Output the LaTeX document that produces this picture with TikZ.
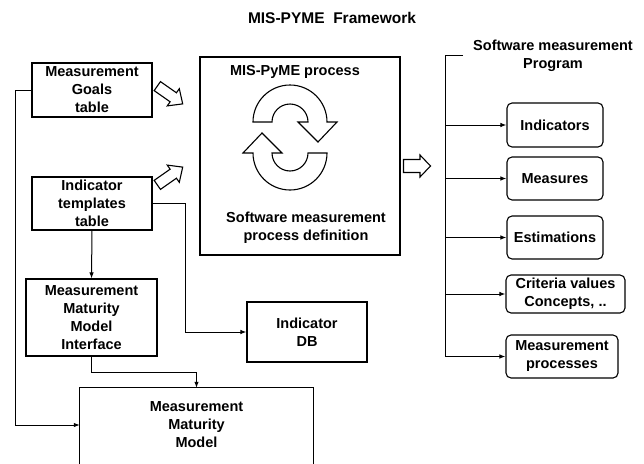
\documentclass[tikz,border=0pt]{standalone}
\usepackage{fontspec}
\setmainfont{Liberation Sans}
\usetikzlibrary{arrows.meta}
\begin{document}
\begin{tikzpicture}[x=1pt,y=-1pt,
  every node/.style={font=\fontsize{14.5}{18}\selectfont\bfseries, align=center, inner sep=0pt},
  box/.style={draw, line width=1.1pt},
  rbox/.style={draw, line width=1.1pt, rounded corners=5pt},
  arr/.style={line width=1pt, -{Latex[length=6pt,width=4.5pt]}},
  conn/.style={line width=1pt},
  hollow/.style={draw, line width=1.1pt, fill=white, line join=miter},
  cyc/.style={draw, line width=1.1pt, fill=white}]
\useasboundingbox (0,0) rectangle (644,463);
\clip (0,0) rectangle (644,463);
% title
\node[font=\fontsize{15.5}{18}\selectfont\bfseries] (title) at (332,18) {MIS-PYME\ \ Framework};
% left boxes
\node[box, minimum width=120pt, minimum height=54pt] (goals) at (92,90) {Measurement\\Goals\\table};
\node[box, minimum width=120pt, minimum height=53pt] (templates) at (92,203.5) {Indicator\\templates\\table};
\node[box, minimum width=131pt, minimum height=77pt] (mmmi) at (91.5,317.5) {Measurement\\Maturity\\Model\\Interface};
\node[box, minimum width=120pt, minimum height=60pt] (idb) at (307,332) {Indicator\\DB};
\node[minimum width=233pt, minimum height=74pt] (mmm) at (196.5,425) {Measurement\\Maturity\\Model};
\draw[line width=1.1pt] ([yshift=-3pt]mmm.south west) -- (mmm.north west) -- (mmm.north east) -- ([yshift=-3pt]mmm.south east);
% process box
\node[box, minimum width=200pt, minimum height=198pt] (proc) at (300,156) {};
\node (proctitle) at (295,72) {MIS-PyME process};
\node (procdef) at (306,228) {Software measurement\\process definition};
% cycle arrows
\draw[cyc] (253,122) arc[start angle=180,end angle=360,radius=37] -- (337,122) -- (318,142) -- (298,122) -- (308,122)
  arc[start angle=0,end angle=-180,radius=18] -- cycle;
\draw[cyc] (327,153) arc[start angle=0,end angle=180,radius=37] -- (243,153) -- (262,133) -- (282,153) -- (272,153)
  arc[start angle=180,end angle=0,radius=18] -- cycle;
% hollow arrows
\begin{scope}[shift={(170,95)}, rotate=-35]
  \draw[hollow] (-15.5,-5.5) -- (4,-5.5) -- (4,-10.5) -- (15.5,0) -- (4,10.5) -- (4,5.5) -- (-15.5,5.5) -- cycle;
\end{scope}
\begin{scope}[shift={(170,176)}, rotate=35]
  \draw[hollow] (-15.5,-5.5) -- (4,-5.5) -- (4,-10.5) -- (15.5,0) -- (4,10.5) -- (4,5.5) -- (-15.5,5.5) -- cycle;
\end{scope}
\begin{scope}[shift={(417,166)}]
  \draw[hollow] (-13.5,-6.5) -- (3,-6.5) -- (3,-11) -- (13.5,0) -- (3,11) -- (3,6.5) -- (-13.5,6.5) -- cycle;
\end{scope}
% right side
\node (progtitle) at (553,56) {Software measurement\\Program};
\node[rbox, minimum width=96pt, minimum height=44pt] (ind) at (555,125) {Indicators};
\node[rbox, minimum width=96pt, minimum height=43pt] (meas) at (555,178.5) {Measures};
\node[rbox, minimum width=96pt, minimum height=43pt] (est) at (555,237.5) {Estimations};
\node[rbox, minimum width=119pt, minimum height=38pt] (crit) at (565.5,294) {Criteria values\\Concepts, ..};
\node[rbox, minimum width=112pt, minimum height=43pt] (mproc) at (562,356.5) {Measurement\\processes};
\coordinate (bustop) at (445,55);
\coordinate (bustick) at (463,55);
\draw[conn] (bustick) -- (bustop) -- (bustop |- mproc.west);
\draw[arr] (bustop |- ind.west) -- (ind.west);
\draw[arr] (bustop |- meas.west) -- (meas.west);
\draw[arr] (bustop |- est.west) -- (est.west);
\draw[arr] (bustop |- crit.west) -- (crit.west);
\draw[arr] (bustop |- mproc.west) -- (mproc.west);
% left connectors
\draw[arr] (goals.west) -- ++(-16,0) |- (mmm.west);
\draw[arr] (templates.south) -- (mmmi.north);
\draw[arr] (templates.east) -- ++(33,0) |- (idb.west);
\draw[arr] (mmmi.south) -- ++(0,16) -| (mmm.north);
\end{tikzpicture}
\end{document}
